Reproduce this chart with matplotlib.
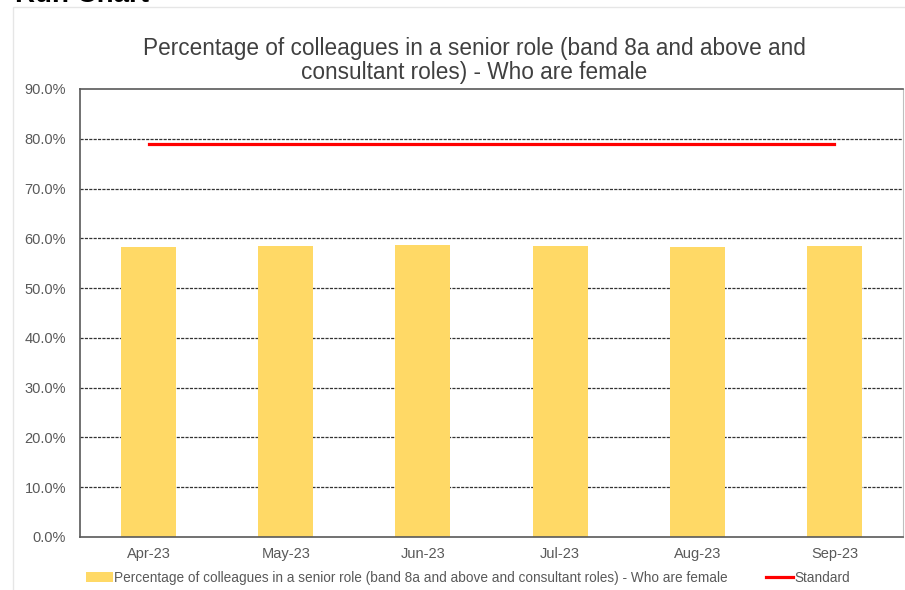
import matplotlib.pyplot as plt
from matplotlib.patches import Rectangle
from matplotlib.ticker import FuncFormatter

plt.rcParams['font.family'] = ['Liberation Sans', 'DejaVu Sans']

months = ['Apr-23', 'May-23', 'Jun-23', 'Jul-23', 'Aug-23', 'Sep-23']
female_pct = [58.3, 58.5, 58.6, 58.4, 58.3, 58.5]
standard = [79.0, 79.0, 79.0, 79.0, 79.0, 79.0]

W, H = 905, 590
fig = plt.figure(figsize=(W / 100, H / 100), dpi=100)

# heading above the chart box, mostly off the top edge
fig.text(15 / W, 1 - 2 / H, 'Run Chart', fontsize=20, fontweight='bold',
         color='black', ha='left', va='baseline')

# light chart-area border
fig.patches.append(Rectangle((13 / W, -0.1), 1.2, 1 - 7 / H + 0.1,
                             transform=fig.transFigure, fill=False,
                             edgecolor='#e6e6e6', linewidth=1))

ax = fig.add_axes([80 / W, 53 / H, 823 / W, 448 / H])
x = range(len(months))
bars = ax.bar(x, female_pct, width=0.4, color='#FFD966',
              label='Percentage of colleagues in a senior role (band 8a and above and consultant roles) - Who are female',
              zorder=2)
line, = ax.plot(x, standard, color='#ff0000', linewidth=2.3, label='Standard', zorder=3)

ax.set_xlim(-0.5, 5.5)
ax.set_ylim(0, 90)
ax.set_yticks(range(0, 91, 10))
ax.yaxis.set_major_formatter(FuncFormatter(lambda v, p: f'{v:.1f}%'))
ax.set_xticks(list(x))
ax.set_xticklabels(months)
ax.tick_params(axis='both', length=0, labelsize=10.5, colors='#595959')
ax.tick_params(axis='y', pad=10)
ax.tick_params(axis='x', pad=7)

for y in range(10, 90, 10):
    ax.axhline(y, color='#333333', linewidth=0.9, linestyle=(0, (2.5, 1)), zorder=1)

for side in ['left', 'bottom', 'top']:
    ax.spines[side].set_color('#595959')
    ax.spines[side].set_linewidth(1.2)
ax.spines['right'].set_color('#bfbfbf')

fig.text(474 / W, 1 - 48 / H, 'Percentage of colleagues in a senior role (band 8a and above and',
         fontsize=16.3, color='#404040', ha='center', va='center')
fig.text(474 / W, 1 - 73 / H, 'consultant roles) - Who are female',
         fontsize=16.3, color='#404040', ha='center', va='center')

leg = fig.legend(handles=[bars, line], loc='center', bbox_to_anchor=(468 / W, 1 - 578 / H),
                 ncol=2, frameon=False, fontsize=9.8, handlelength=2.0, handleheight=0.8,
                 handletextpad=0.1, columnspacing=2.8)
for t in leg.get_texts():
    t.set_color('#595959')

fig.savefig('out.png', dpi=100)
